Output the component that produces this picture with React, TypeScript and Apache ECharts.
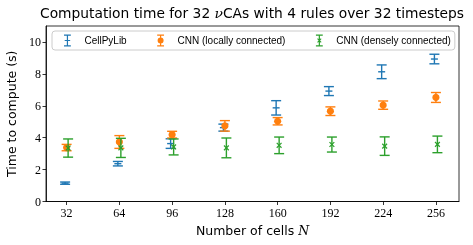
import { useEffect, useRef } from "react";
import * as echarts from "echarts";

// ---- data ----
const cells = [32, 64, 96, 128, 160, 192, 224, 256];
const cellPyLibMean = [1.15, 2.37, 3.63, 4.63, 5.87, 6.92, 8.13, 8.93];
const cellPyLibErr = [0.07, 0.14, 0.3, 0.22, 0.45, 0.28, 0.43, 0.3];
const localMean = [3.38, 3.73, 4.19, 4.74, 5.03, 5.66, 6.04, 6.52];
const localErr = [0.2, 0.4, 0.21, 0.33, 0.23, 0.27, 0.26, 0.31];
const denseMean = [3.35, 3.36, 3.42, 3.36, 3.52, 3.57, 3.47, 3.58];
const denseErr = [0.57, 0.6, 0.5, 0.62, 0.52, 0.47, 0.58, 0.52];
const xTicks = [32, 64, 96, 128, 160, 192, 224, 256];
const yTicks = [0, 2, 4, 6, 8, 10];
const seriesNames = ["CellPyLib", "CNN (locally connected)", "CNN (densely connected)"];

// ---- styles ----
const BLUE = "#1f77b4";
const ORANGE = "#ff7f0e";
const GREEN = "#2ca02c";
const CAP = 5;

function rect(x: number, y: number, w: number, h: number) {
  return `M${x} ${y}h${w}v${h}h${-w}Z`;
}
function circlePath(cx: number, cy: number, r: number) {
  return `M${cx - r} ${cy}A${r} ${r} 0 1 1 ${cx + r} ${cy}A${r} ${r} 0 1 1 ${cx - r} ${cy}Z`;
}
function xPath(cx: number, cy: number, a: number, t: number) {
  const pts = [
    [t, -a], [t, -t], [a, -t], [a, t], [t, t], [t, a],
    [-t, a], [-t, t], [-a, t], [-a, -t], [-t, -t], [-t, -a],
  ].map(([x, y]) => [cx + (x - y) / Math.SQRT2, cy + (x + y) / Math.SQRT2]);
  return "M" + pts.map((p) => `${p[0].toFixed(3)} ${p[1].toFixed(3)}`).join("L") + "Z";
}
const caps = rect(0, 0, 8, 1.4) + rect(0, 12.6, 8, 1.4);
const blueIcon = "path://" + caps + rect(3.3, 0, 1.4, 14) + rect(0.8, 6.3, 6.4, 1.4);
const orangeIcon =
  "path://" + caps + rect(3.3, 0, 1.4, 3.6) + rect(3.3, 10.4, 1.4, 3.6) + circlePath(4, 7, 3.5);
const greenIcon = "path://" + caps + rect(3.3, 0, 1.4, 14) + xPath(4, 7, 3, 0.6);

function makeRenderItem(color: string, marker: string, dodge: number) {
  return (_params: any, api: any) => {
    const x = api.value(0);
    const y = api.value(1);
    const e = api.value(2);
    const c = api.coord([x, y]);
    const top = api.coord([x, y + e]);
    const bot = api.coord([x, y - e]);
    const px = c[0] + dodge;
    const ls = { stroke: color, lineWidth: 1.4 };
    const children: any[] = [
      { type: "line", shape: { x1: px, y1: top[1], x2: px, y2: bot[1] }, style: ls },
      { type: "line", shape: { x1: px - CAP, y1: top[1], x2: px + CAP, y2: top[1] }, style: ls },
      { type: "line", shape: { x1: px - CAP, y1: bot[1], x2: px + CAP, y2: bot[1] }, style: ls },
    ];
    if (marker === "hline") {
      children.push({ type: "line", shape: { x1: px - 3.5, y1: c[1], x2: px + 3.5, y2: c[1] }, style: ls });
    } else if (marker === "circle") {
      children.push({ type: "circle", shape: { cx: px, cy: c[1], r: 3.6 }, style: { fill: color } });
    } else {
      const s = 2.4;
      const xs = { stroke: color, lineWidth: 1.2 };
      children.push({ type: "line", shape: { x1: px - s, y1: c[1] - s, x2: px + s, y2: c[1] + s }, style: xs });
      children.push({ type: "line", shape: { x1: px - s, y1: c[1] + s, x2: px + s, y2: c[1] - s }, style: xs });
    }
    return { type: "group", children };
  };
}

function build(mean: number[], err: number[]) {
  return cells.map((c, i) => [c, mean[i], err[i]]);
}

export default function App() {
  const ref = useRef<HTMLDivElement>(null);
  useEffect(() => {
    if (!ref.current) return;
    document.body.style.margin = "0";
    const chart = echarts.init(ref.current, null, { renderer: "svg" });
    const tickLabel = { fontFamily: "Liberation Serif", fontSize: 12, color: "#000" };
    chart.setOption({
      animation: false,
      title: {
        text: "Computation time for 32 {nu|ν}CAs with 4 rules over 32 timesteps",
        left: 40,
        top: 6,
        padding: 0,
        textStyle: {
          fontFamily: "DejaVu Sans",
          fontSize: 13.8,
          fontWeight: "normal",
          color: "#000",
          rich: {
            nu: { fontFamily: "DejaVu Serif", fontStyle: "italic", fontSize: 13.8, color: "#000" },
          },
        },
      },
      legend: {
        left: 52,
        top: 31,
        padding: [3.5, 4, 3.5, 12],
        itemWidth: 24,
        itemHeight: 12,
        itemGap: 30.5,
        backgroundColor: "rgba(255,255,255,0.8)",
        borderColor: "#cccccc",
        borderWidth: 1,
        borderRadius: 3,
        textStyle: { fontFamily: "Liberation Sans", fontSize: 10, color: "#000" },
        data: [
          { name: seriesNames[0], icon: blueIcon },
          { name: seriesNames[1], icon: orangeIcon },
          { name: seriesNames[2], icon: greenIcon },
        ],
        z: 10,
      },
      grid: {
        left: 46,
        right: 14,
        top: 26,
        bottom: 43.5,
        show: true,
        borderColor: "#000",
        borderWidth: 0.8,
        backgroundColor: "transparent",
        containLabel: false,
        outerBoundsMode: "none",
      },
      xAxis: {
        type: "value",
        min: 19.5,
        max: 270,
        name: "Number of cells {n|N}",
        nameLocation: "middle",
        nameGap: 22,
        nameTextStyle: {
          fontFamily: "DejaVu Sans",
          fontSize: 12.5,
          color: "#000",
          rich: { n: { fontFamily: "DejaVu Serif", fontStyle: "italic", fontSize: 12.5, color: "#000" } },
        },
        axisLine: { show: true, lineStyle: { color: "#000", width: 0.8 } },
        axisTick: { show: true, inside: false, length: 3.5, lineStyle: { color: "#000", width: 0.8 }, customValues: xTicks },
        axisLabel: { ...tickLabel, margin: 5, customValues: xTicks },
        splitLine: { show: false },
      },
      yAxis: {
        type: "value",
        min: 0,
        max: 11,
        name: "Time to compute (s)",
        nameLocation: "middle",
        nameGap: 23,
        nameTextStyle: { fontFamily: "DejaVu Sans", fontSize: 12.5, color: "#000" },
        axisLine: { show: true, lineStyle: { color: "#000", width: 0.8 } },
        axisTick: { show: true, inside: false, length: 3.5, lineStyle: { color: "#000", width: 0.8 }, customValues: yTicks },
        axisLabel: { ...tickLabel, margin: 5, customValues: yTicks },
        splitLine: { show: false },
      },
      series: [
        {
          type: "custom",
          name: seriesNames[0],
          itemStyle: { color: BLUE },
          encode: { x: 0, y: 1 },
          renderItem: makeRenderItem(BLUE, "hline", -1.5),
          data: build(cellPyLibMean, cellPyLibErr),
        },
        {
          type: "custom",
          name: seriesNames[1],
          itemStyle: { color: ORANGE },
          encode: { x: 0, y: 1 },
          renderItem: makeRenderItem(ORANGE, "circle", 0),
          data: build(localMean, localErr),
        },
        {
          type: "custom",
          name: seriesNames[2],
          itemStyle: { color: GREEN },
          encode: { x: 0, y: 1 },
          renderItem: makeRenderItem(GREEN, "x", 1.5),
          data: build(denseMean, denseErr),
        },
      ],
    });
    return () => chart.dispose();
  }, []);
  return <div ref={ref} style={{ width: 473, height: 245, position: "fixed", left: 0, top: 0 }} />;
}
